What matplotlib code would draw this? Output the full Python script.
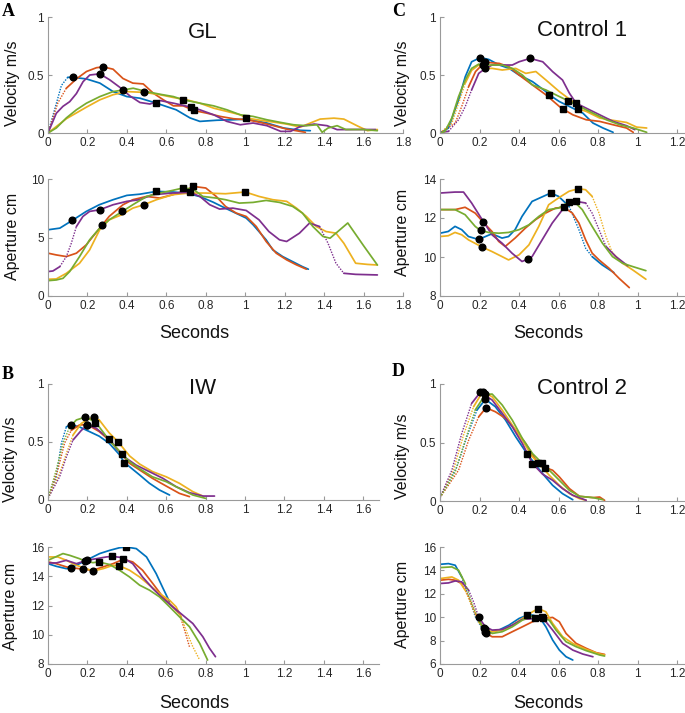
import numpy as np
import matplotlib.pyplot as plt
from matplotlib.ticker import FuncFormatter

plt.rcParams['font.family'] = ['Liberation Sans', 'DejaVu Sans']

W, H = 685, 713
colors = {'blue': '#0072BD', 'orange': '#D95319', 'yellow': '#EDB120',
          'purple': '#7E2F8E', 'green': '#77AC30'}

# ---------------- GL (panel A) ----------------
gl_vel = {
    'blue': ([0, 0.068, 0.10, 0.127, 0.195, 0.263, 0.33, 0.40, 0.466, 0.55, 0.65, 0.72, 0.77, 0.856, 0.94, 1.01, 1.11, 1.195, 1.28, 1.33],
             [0, 0.41, 0.48, 0.48, 0.466, 0.43, 0.357, 0.314, 0.30, 0.257, 0.2, 0.13, 0.10, 0.11, 0.114, 0.12, 0.086, 0.043, 0.023, 0.02]),
    'orange': ([0, 0.05, 0.093, 0.144, 0.195, 0.246, 0.28, 0.33, 0.38, 0.43, 0.483, 0.534, 0.585, 0.636, 0.686, 0.74, 0.805, 0.873, 0.94, 1.01, 1.076, 1.144, 1.21, 1.305],
               [0, 0.26, 0.386, 0.466, 0.53, 0.563, 0.57, 0.55, 0.47, 0.43, 0.423, 0.343, 0.286, 0.234, 0.234, 0.194, 0.171, 0.143, 0.123, 0.114, 0.091, 0.063, 0.034, 0.006]),
    'purple': ([0, 0.042, 0.076, 0.11, 0.144, 0.178, 0.212, 0.263, 0.314, 0.364, 0.415, 0.466, 0.517, 0.568, 0.636, 0.724, 0.77, 0.84, 0.907, 0.975, 1.04, 1.11, 1.18, 1.23, 1.28, 1.35, 1.415, 1.466, 1.55, 1.66],
               [0, 0.17, 0.23, 0.27, 0.34, 0.443, 0.5, 0.51, 0.457, 0.394, 0.32, 0.263, 0.25, 0.28, 0.257, 0.223, 0.2, 0.157, 0.1, 0.071, 0.086, 0.063, 0.014, 0.014, 0.057, 0.077, 0.063, 0.029, 0.03, 0.03]),
    'green': ([0, 0.042, 0.093, 0.144, 0.195, 0.263, 0.33, 0.378, 0.432, 0.5, 0.568, 0.636, 0.686, 0.77, 0.84, 0.907, 0.975, 1.04, 1.11, 1.18, 1.245, 1.31, 1.364, 1.39, 1.42, 1.466, 1.51, 1.6, 1.67],
              [0, 0.043, 0.13, 0.2, 0.257, 0.314, 0.357, 0.37, 0.386, 0.357, 0.334, 0.314, 0.286, 0.257, 0.234, 0.2, 0.157, 0.143, 0.114, 0.091, 0.071, 0.063, 0.071, 0.006, 0.043, 0.063, 0.03, 0.03, 0.02]),
    'yellow': ([0, 0.093, 0.195, 0.263, 0.33, 0.40, 0.488, 0.568, 0.636, 0.703, 0.77, 0.84, 0.907, 0.975, 1.005, 1.076, 1.144, 1.21, 1.28, 1.33, 1.38, 1.45, 1.5, 1.57, 1.62, 1.67],
               [0, 0.123, 0.223, 0.286, 0.33, 0.357, 0.35, 0.33, 0.306, 0.286, 0.257, 0.214, 0.186, 0.157, 0.13, 0.11, 0.094, 0.077, 0.051, 0.086, 0.12, 0.128, 0.12, 0.06, 0.02, 0.03]),
}
gl_vel_dots = {'blue': [(0, 0.10)], 'orange': [(0, 0.093)]}
gl_vel_circles = [(0.127, 0.48), (0.28, 0.57), (0.263, 0.51), (0.378, 0.37), (0.488, 0.35)]
gl_vel_squares = [(0.55, 0.257), (0.686, 0.286), (0.724, 0.223), (0.74, 0.194), (1.005, 0.13)]

gl_ap = {
    'blue': ([0, 0.06, 0.123, 0.194, 0.26, 0.33, 0.40, 0.465, 0.55, 0.633, 0.70, 0.77, 0.836, 0.90, 0.97, 1.005, 1.04, 1.106, 1.14, 1.19, 1.24, 1.29, 1.32],
             [5.66, 5.8, 6.46, 7.23, 7.8, 8.23, 8.6, 8.7, 8.94, 8.89, 8.8, 8.5, 8.03, 7.5, 6.94, 6.66, 6.09, 4.8, 3.94, 3.37, 2.94, 2.51, 2.29]),
    'orange': ([0, 0.042, 0.093, 0.144, 0.194, 0.228, 0.275, 0.31, 0.38, 0.43, 0.5, 0.566, 0.633, 0.70, 0.735, 0.80, 0.853, 0.90, 0.954, 1.005, 1.056, 1.106, 1.157, 1.21, 1.26, 1.31],
               [3.66, 3.51, 3.37, 3.66, 4.37, 5.09, 6.06, 6.8, 7.8, 8.23, 8.51, 8.37, 8.66, 9.03, 9.37, 9.23, 8.51, 7.66, 7.09, 6.8, 5.94, 4.66, 3.66, 3.09, 2.66, 2.29]),
    'purple': ([0, 0.025, 0.06, 0.093, 0.118, 0.144, 0.177, 0.211, 0.262, 0.33, 0.40, 0.465, 0.53, 0.633, 0.72, 0.77, 0.82, 0.87, 0.937, 1.005, 1.07, 1.12, 1.174, 1.21, 1.275, 1.326, 1.377, 1.42, 1.46, 1.5, 1.56, 1.67],
               [2.09, 2.14, 2.51, 3.37, 4.5, 5.94, 6.8, 7.23, 7.37, 7.8, 8.09, 8.23, 8.66, 8.8, 8.86, 8.51, 7.8, 7.43, 7.51, 7.31, 6.51, 5.51, 4.8, 4.66, 5.37, 6.23, 5.94, 4.5, 2.8, 1.94, 1.85, 1.8]),
    'green': ([0, 0.042, 0.076, 0.11, 0.16, 0.211, 0.262, 0.31, 0.377, 0.43, 0.5, 0.566, 0.633, 0.684, 0.735, 0.785, 0.853, 0.90, 0.97, 1.04, 1.106, 1.174, 1.24, 1.29, 1.343, 1.394, 1.43, 1.48, 1.52, 1.6, 1.67],
              [1.31, 1.37, 1.51, 2.09, 3.37, 4.8, 5.8, 6.51, 7.23, 7.8, 8.51, 8.8, 9.03, 9.23, 9.14, 8.51, 8.37, 8.23, 7.94, 8.0, 8.17, 8.0, 7.66, 7.09, 5.94, 5.09, 4.94, 5.66, 6.24, 4.3, 2.65]),
    'yellow': ([0, 0.042, 0.093, 0.16, 0.211, 0.262, 0.31, 0.373, 0.43, 0.486, 0.55, 0.633, 0.718, 0.80, 0.90, 1.0, 1.07, 1.14, 1.21, 1.26, 1.31, 1.36, 1.41, 1.46, 1.5, 1.56, 1.62, 1.67],
               [1.43, 1.46, 1.94, 2.8, 3.94, 5.66, 6.51, 6.94, 7.51, 7.8, 8.23, 8.66, 8.8, 8.8, 8.74, 8.89, 8.51, 8.23, 8.09, 7.51, 6.8, 5.94, 5.51, 5.37, 4.51, 2.8, 2.7, 2.65]),
}
gl_ap_dots = {'purple': [(0.06, 0.144), (1.377, 1.5)]}
gl_ap_circles = [(0.123, 6.46), (0.275, 6.06), (0.262, 7.37), (0.377, 7.23), (0.486, 7.8)]
gl_ap_squares = [(0.55, 8.94), (0.684, 9.23), (0.72, 8.86), (0.735, 9.37), (1.0, 8.89)]

# ---------------- Control 1 (panel C) ----------------
c1_vel = {
    'blue': ([0, 0.043, 0.094, 0.128, 0.16, 0.204, 0.247, 0.30, 0.35, 0.40, 0.468, 0.536, 0.553, 0.604, 0.672, 0.723, 0.774, 0.825, 0.876],
             [0, 0.043, 0.286, 0.486, 0.614, 0.65, 0.634, 0.586, 0.557, 0.5, 0.443, 0.357, 0.329, 0.271, 0.214, 0.171, 0.086, 0.043, 0.006]),
    'orange': ([0, 0.077, 0.11, 0.145, 0.18, 0.226, 0.30, 0.35, 0.40, 0.468, 0.536, 0.604, 0.62, 0.672, 0.74, 0.808, 0.876, 0.944, 0.978],
               [0, 0.086, 0.229, 0.4, 0.53, 0.61, 0.6, 0.57, 0.5, 0.414, 0.329, 0.229, 0.209, 0.157, 0.114, 0.1, 0.071, 0.043, 0.006]),
    'yellow': ([0, 0.06, 0.094, 0.128, 0.16, 0.196, 0.226, 0.264, 0.315, 0.383, 0.434, 0.485, 0.536, 0.604, 0.672, 0.70, 0.74, 0.808, 0.876, 0.944, 0.995, 1.046],
               [0, 0.086, 0.257, 0.43, 0.54, 0.586, 0.557, 0.557, 0.543, 0.557, 0.514, 0.53, 0.457, 0.357, 0.271, 0.209, 0.186, 0.129, 0.109, 0.091, 0.051, 0.043]),
    'green': ([0, 0.025, 0.06, 0.094, 0.128, 0.16, 0.196, 0.22, 0.264, 0.315, 0.366, 0.417, 0.468, 0.536, 0.604, 0.65, 0.706, 0.774, 0.842, 0.91, 0.978, 1.046],
              [0, 0.014, 0.129, 0.314, 0.457, 0.557, 0.594, 0.586, 0.586, 0.586, 0.557, 0.5, 0.414, 0.371, 0.314, 0.277, 0.229, 0.171, 0.114, 0.071, 0.043, 0.006]),
    'purple': ([0, 0.043, 0.094, 0.128, 0.16, 0.196, 0.23, 0.264, 0.315, 0.366, 0.40, 0.456, 0.52, 0.57, 0.62, 0.655, 0.689, 0.74, 0.808, 0.876, 0.944, 0.986],
               [0.006, 0.014, 0.114, 0.229, 0.371, 0.514, 0.557, 0.586, 0.586, 0.586, 0.614, 0.643, 0.614, 0.529, 0.457, 0.343, 0.257, 0.214, 0.157, 0.1, 0.063, 0.029]),
}
c1_vel_dots = {'orange': [(0, 0.145)], 'yellow': [(0, 0.128)], 'purple': [(0.043, 0.16)]}
c1_vel_circles = [(0.204, 0.65), (0.226, 0.61), (0.22, 0.586), (0.226, 0.557), (0.456, 0.643)]
c1_vel_squares = [(0.553, 0.329), (0.62, 0.209), (0.65, 0.277), (0.689, 0.257), (0.70, 0.209)]

c1_ap = {
    'blue': ([0, 0.042, 0.076, 0.11, 0.144, 0.195, 0.23, 0.263, 0.314, 0.347, 0.38, 0.415, 0.466, 0.56, 0.60, 0.653, 0.703, 0.737, 0.77, 0.82, 0.88],
             [11.22, 11.31, 11.57, 11.4, 11.05, 10.9, 11.05, 11.19, 10.97, 11.05, 11.4, 12.08, 12.85, 13.28, 13.11, 12.6, 11.4, 10.45, 10.02, 9.6, 9.2]),
    'orange': ([0, 0.076, 0.127, 0.178, 0.22, 0.263, 0.297, 0.33, 0.38, 0.432, 0.483, 0.534, 0.585, 0.627, 0.67, 0.703, 0.737, 0.77, 0.805, 0.856, 0.907, 0.958],
               [12.43, 12.43, 12.55, 12.25, 11.77, 11.31, 10.8, 10.54, 10.97, 11.48, 11.91, 12.25, 12.51, 12.55, 12.25, 11.74, 10.88, 10.2, 9.85, 9.42, 8.9, 8.43]),
    'yellow': ([0, 0.042, 0.076, 0.11, 0.144, 0.215, 0.263, 0.314, 0.347, 0.40, 0.45, 0.50, 0.55, 0.60, 0.653, 0.70, 0.737, 0.77, 0.805, 0.84, 0.873, 0.924, 0.975, 1.042],
               [11.05, 11.09, 11.26, 11.14, 10.88, 10.5, 10.28, 10.02, 9.85, 10.11, 10.62, 11.57, 12.68, 13.03, 13.37, 13.5, 13.45, 13.11, 12.25, 11.05, 10.2, 9.68, 9.34, 8.86]),
    'purple': ([0, 0.076, 0.119, 0.16, 0.203, 0.263, 0.314, 0.364, 0.415, 0.446, 0.466, 0.517, 0.568, 0.62, 0.653, 0.69, 0.737, 0.77, 0.805, 0.84, 0.89, 0.95],
               [13.28, 13.33, 13.33, 12.77, 12.08, 11.14, 10.71, 10.2, 9.77, 9.9, 10.02, 10.88, 11.74, 12.43, 12.77, 12.85, 12.77, 12.25, 11.4, 10.54, 10.02, 9.55]),
    'green': ([0, 0.076, 0.127, 0.178, 0.205, 0.246, 0.297, 0.347, 0.40, 0.45, 0.50, 0.55, 0.60, 0.653, 0.686, 0.72, 0.77, 0.822, 0.873, 0.924, 0.975, 1.042],
              [12.43, 12.43, 12.17, 11.57, 11.36, 11.26, 11.22, 11.26, 11.4, 11.65, 12.08, 12.43, 12.51, 12.82, 12.77, 12.43, 11.57, 10.71, 10.02, 9.68, 9.51, 9.3]),
}
c1_ap_dots = {'blue': [(0.653, 0.77)], 'yellow': [(0.77, 0.873)], 'purple': [(0.737, 0.84)]}
c1_ap_circles = [(0.195, 10.9), (0.22, 11.77), (0.215, 10.5), (0.446, 9.9), (0.205, 11.36)]
c1_ap_squares = [(0.56, 13.28), (0.627, 12.55), (0.70, 13.5), (0.69, 12.85), (0.653, 12.82)]

# ---------------- IW (panel B) ----------------
iw_vel = {
    'blue': ([0, 0.042, 0.068, 0.093, 0.115, 0.16, 0.21, 0.26, 0.31, 0.363, 0.387, 0.414, 0.465, 0.515, 0.566, 0.617],
             [0.014, 0.2, 0.49, 0.63, 0.65, 0.63, 0.59, 0.55, 0.49, 0.39, 0.322, 0.287, 0.216, 0.144, 0.086, 0.043]),
    'orange': ([0, 0.05, 0.084, 0.118, 0.16, 0.2, 0.26, 0.31, 0.363, 0.375, 0.414, 0.465, 0.53, 0.6, 0.667, 0.718],
               [0.014, 0.26, 0.49, 0.6, 0.647, 0.65, 0.59, 0.517, 0.42, 0.394, 0.316, 0.259, 0.187, 0.12, 0.057, 0.029]),
    'yellow': ([0, 0.059, 0.093, 0.127, 0.169, 0.21, 0.233, 0.26, 0.31, 0.355, 0.414, 0.465, 0.53, 0.6, 0.667, 0.735, 0.786],
               [0.014, 0.23, 0.4, 0.56, 0.66, 0.70, 0.713, 0.69, 0.58, 0.503, 0.38, 0.31, 0.245, 0.2, 0.144, 0.072, 0.034]),
    'green': ([0, 0.042, 0.076, 0.11, 0.144, 0.186, 0.22, 0.24, 0.26, 0.31, 0.363, 0.414, 0.465, 0.53, 0.6, 0.667, 0.735, 0.8],
              [0.014, 0.26, 0.49, 0.63, 0.69, 0.713, 0.69, 0.667, 0.63, 0.517, 0.42, 0.33, 0.27, 0.2, 0.158, 0.1, 0.043, 0.014]),
    'purple': ([0, 0.059, 0.093, 0.127, 0.169, 0.2, 0.245, 0.296, 0.312, 0.346, 0.397, 0.448, 0.515, 0.583, 0.65, 0.718, 0.786, 0.845],
               [0.014, 0.2, 0.37, 0.517, 0.6, 0.647, 0.618, 0.546, 0.53, 0.445, 0.36, 0.3, 0.244, 0.187, 0.115, 0.063, 0.034, 0.034]),
}
iw_vel_dots = {'blue': [(0, 0.093)], 'orange': [(0, 0.118)], 'yellow': [(0, 0.127)],
               'green': [(0, 0.11)], 'purple': [(0, 0.127)]}
iw_vel_circles = [(0.115, 0.65), (0.2, 0.65), (0.233, 0.713), (0.186, 0.713), (0.2, 0.647)]
iw_vel_squares = [(0.387, 0.322), (0.375, 0.394), (0.355, 0.503), (0.24, 0.667), (0.312, 0.53)]

iw_ap = {
    'blue': ([0, 0.042, 0.093, 0.115, 0.16, 0.21, 0.262, 0.313, 0.363, 0.397, 0.448, 0.5, 0.549, 0.583, 0.617],
             [14.86, 14.68, 14.52, 14.57, 14.86, 15.2, 15.55, 15.77, 15.95, 16.0, 15.89, 15.32, 14.18, 13.2, 12.25]),
    'orange': ([0, 0.042, 0.093, 0.177, 0.228, 0.28, 0.33, 0.382, 0.43, 0.48, 0.532, 0.583, 0.633, 0.667, 0.693, 0.718],
               [14.98, 14.86, 14.64, 14.48, 14.41, 14.64, 14.86, 15.16, 14.98, 14.41, 13.5, 12.59, 11.91, 11.45, 10.32, 9.18]),
    'yellow': ([0, 0.05, 0.093, 0.144, 0.228, 0.28, 0.33, 0.36, 0.414, 0.465, 0.515, 0.566, 0.617, 0.65, 0.676, 0.7, 0.735, 0.77],
               [15.32, 15.32, 15.09, 14.75, 14.36, 14.52, 14.75, 14.73, 14.41, 13.95, 13.39, 12.82, 12.36, 11.91, 11.23, 10.32, 9.18, 8.27]),
    'green': ([0, 0.076, 0.11, 0.16, 0.186, 0.228, 0.257, 0.313, 0.363, 0.414, 0.465, 0.515, 0.566, 0.617, 0.667, 0.718, 0.77, 0.81],
              [15.09, 15.55, 15.43, 15.2, 15.05, 14.93, 14.98, 14.8, 14.41, 13.95, 13.39, 13.05, 12.59, 11.91, 11.23, 10.55, 9.41, 8.27]),
    'purple': ([0, 0.042, 0.093, 0.144, 0.198, 0.245, 0.296, 0.325, 0.38, 0.43, 0.48, 0.532, 0.583, 0.633, 0.684, 0.735, 0.786, 0.82, 0.85],
               [14.91, 14.91, 15.09, 14.86, 15.09, 15.2, 15.32, 15.36, 15.27, 14.86, 13.95, 13.16, 12.48, 11.91, 11.34, 10.77, 9.86, 9.07, 8.5]),
}
iw_ap_dots = {'orange': [(0.667, 0.718)], 'yellow': [(0.676, 0.77)]}
iw_ap_circles = [(0.115, 14.57), (0.177, 14.48), (0.228, 14.36), (0.186, 15.05), (0.198, 15.09)]
iw_ap_squares = [(0.397, 16.0), (0.382, 15.16), (0.36, 14.73), (0.257, 14.98), (0.325, 15.36)]

# ---------------- Control 2 (panel D) ----------------
c2_vel = {
    'blue': ([0, 0.085, 0.136, 0.187, 0.23, 0.28, 0.332, 0.383, 0.442, 0.519, 0.57, 0.62, 0.672],
             [0.029, 0.291, 0.549, 0.777, 0.869, 0.806, 0.691, 0.549, 0.4, 0.234, 0.134, 0.063, 0.011]),
    'orange': ([0, 0.094, 0.145, 0.196, 0.233, 0.28, 0.332, 0.383, 0.434, 0.485, 0.532, 0.57, 0.604, 0.655, 0.706, 0.774, 0.808, 0.833],
               [0.029, 0.263, 0.52, 0.72, 0.797, 0.763, 0.706, 0.606, 0.491, 0.349, 0.286, 0.263, 0.206, 0.106, 0.04, 0.029, 0.034, 0.006]),
    'yellow': ([0, 0.068, 0.119, 0.17, 0.216, 0.264, 0.315, 0.366, 0.417, 0.468, 0.498, 0.553, 0.604, 0.655, 0.706, 0.74],
               [0.029, 0.263, 0.563, 0.806, 0.934, 0.891, 0.777, 0.649, 0.52, 0.377, 0.326, 0.22, 0.134, 0.063, 0.02, 0.006]),
    'green': ([0, 0.077, 0.128, 0.178, 0.23, 0.264, 0.315, 0.366, 0.417, 0.468, 0.515, 0.553, 0.604, 0.655, 0.706, 0.774, 0.825],
              [0.029, 0.249, 0.52, 0.777, 0.911, 0.914, 0.82, 0.691, 0.534, 0.406, 0.326, 0.263, 0.177, 0.091, 0.04, 0.029, 0.011]),
    'purple': ([0, 0.06, 0.11, 0.16, 0.204, 0.264, 0.315, 0.366, 0.417, 0.468, 0.519, 0.57, 0.62, 0.672, 0.74],
               [0.029, 0.263, 0.577, 0.834, 0.929, 0.863, 0.749, 0.634, 0.491, 0.32, 0.23, 0.177, 0.106, 0.049, 0.006]),
}
c2_vel_dots = {'blue': [(0, 0.187)], 'orange': [(0, 0.196)], 'yellow': [(0, 0.17)],
               'green': [(0, 0.178)], 'purple': [(0, 0.16)]}
c2_vel_circles = [(0.23, 0.869), (0.233, 0.797), (0.216, 0.934), (0.23, 0.911), (0.204, 0.929)]
c2_vel_squares = [(0.442, 0.4), (0.532, 0.286), (0.498, 0.326), (0.515, 0.326), (0.468, 0.32)]

c2_ap = {
    'blue': ([0, 0.043, 0.077, 0.11, 0.145, 0.179, 0.213, 0.23, 0.247, 0.298, 0.349, 0.4, 0.442, 0.468, 0.502, 0.536, 0.57, 0.604, 0.638, 0.672],
             [14.52, 14.58, 14.44, 13.44, 11.74, 10.03, 9.04, 8.76, 8.7, 8.9, 9.32, 9.89, 10.18, 10.18, 10.03, 9.18, 8.05, 7.19, 6.62, 6.34]),
    'orange': ([0, 0.043, 0.077, 0.11, 0.145, 0.179, 0.233, 0.264, 0.315, 0.366, 0.417, 0.468, 0.52, 0.57, 0.604, 0.638, 0.689, 0.74, 0.79, 0.833],
               [13.16, 13.24, 13.16, 12.88, 11.74, 10.32, 8.61, 8.33, 8.33, 8.76, 9.18, 9.61, 9.89, 9.98, 9.61, 8.61, 7.76, 7.34, 6.97, 6.82]),
    'yellow': ([0, 0.06, 0.094, 0.128, 0.162, 0.196, 0.226, 0.264, 0.315, 0.366, 0.417, 0.468, 0.498, 0.536, 0.57, 0.621, 0.672, 0.74, 0.808, 0.833],
               [13.3, 13.44, 13.16, 12.3, 10.89, 9.61, 8.95, 8.76, 8.9, 9.32, 9.89, 10.46, 10.74, 10.46, 9.47, 8.33, 7.76, 7.25, 6.85, 6.77]),
    'green': ([0, 0.06, 0.094, 0.128, 0.162, 0.196, 0.221, 0.264, 0.315, 0.366, 0.417, 0.468, 0.515, 0.553, 0.587, 0.638, 0.689, 0.74, 0.808, 0.833],
              [14.24, 14.3, 14.01, 12.88, 11.17, 9.75, 9.04, 8.61, 8.76, 9.18, 9.75, 10.09, 9.98, 9.75, 8.9, 7.9, 7.48, 7.14, 6.77, 6.68]),
    'purple': ([0, 0.043, 0.077, 0.11, 0.145, 0.17, 0.196, 0.23, 0.264, 0.315, 0.366, 0.417, 0.48, 0.536, 0.57, 0.621, 0.672, 0.723, 0.774],
               [12.88, 12.93, 13.1, 13.02, 12.3, 11.31, 9.98, 9.18, 8.9, 8.95, 9.32, 9.81, 9.89, 9.61, 8.9, 7.76, 7.19, 6.85, 6.62]),
}
c2_ap_dots = {'blue': [(0.11, 0.213)], 'orange': [(0.11, 0.179)], 'yellow': [(0.128, 0.196)],
              'green': [(0.128, 0.196)], 'purple': [(0.145, 0.196)]}
c2_ap_circles = [(0.23, 8.76), (0.233, 8.61), (0.226, 8.95), (0.221, 9.04), (0.196, 9.98)]
c2_ap_squares = [(0.442, 10.18), (0.52, 9.89), (0.498, 10.74), (0.515, 9.98), (0.48, 9.89)]


def rect(left, top, right, bottom):
    # pixel box -> figure fraction
    return [left / W, 1 - bottom / H, (right - left) / W, (bottom - top) / H]


def px(x, y):
    return x / W, 1 - y / H


def draw(ax, curves, dots, circles, squares, xlim, ylim, xticks, yticks):
    for name in ['blue', 'orange', 'yellow', 'purple', 'green']:
        t, y = curves[name]
        t = np.array(t, float)
        y = np.array(y, float)
        solid = np.ones(len(t), bool)
        dotted = np.zeros(len(t), bool)
        for d0, d1 in dots.get(name, []):
            solid &= ~((t > d0) & (t < d1))
            dotted |= (t >= d0) & (t <= d1)
        ax.plot(t, np.where(solid, y, np.nan), color=colors[name], lw=1.25,
                solid_joinstyle='round', solid_capstyle='round')
        if dotted.any():
            ax.plot(t, np.where(dotted, y, np.nan), color=colors[name], lw=1.0, ls=(0, (1, 1)))
    cx, cy = zip(*circles)
    sx, sy = zip(*squares)
    ax.plot(cx, cy, 'o', color='k', ms=4.8, zorder=5)
    ax.plot(sx, sy, 's', color='k', ms=4.8, zorder=5)
    ax.set_xlim(*xlim)
    ax.set_ylim(*ylim)
    ax.set_xticks(xticks)
    ax.set_yticks(yticks)
    fmt = FuncFormatter(lambda v, p: '%g' % round(v, 2))
    ax.xaxis.set_major_formatter(fmt)
    ax.yaxis.set_major_formatter(fmt)
    for s in ['top', 'right']:
        ax.spines[s].set_visible(False)
    for s in ['left', 'bottom']:
        ax.spines[s].set_color('#9a9a9a')
        ax.spines[s].set_linewidth(0.8)
    ax.tick_params(direction='in', length=3, width=0.8, color='#9a9a9a',
                   labelsize=8.5, labelcolor='#262626', pad=3)
    ax.patch.set_alpha(0)


fig = plt.figure(figsize=(W / 100, H / 100), dpi=100)

ticks_a = [0, 0.2, 0.4, 0.6, 0.8, 1, 1.2, 1.4, 1.6, 1.8]
ticks_b = [0, 0.2, 0.4, 0.6, 0.8, 1, 1.2, 1.4, 1.6]
ticks_c = [0, 0.2, 0.4, 0.6, 0.8, 1, 1.2]

ax = fig.add_axes(rect(48, 17, 403, 133))
draw(ax, gl_vel, gl_vel_dots, gl_vel_circles, gl_vel_squares, (0, 1.8), (0, 1), ticks_a, [0, 0.5, 1])
ax = fig.add_axes(rect(48, 179, 403, 296))
draw(ax, gl_ap, gl_ap_dots, gl_ap_circles, gl_ap_squares, (0, 1.8), (0, 10), ticks_a, [0, 5, 10])

ax = fig.add_axes(rect(440, 17, 685, 133))
draw(ax, c1_vel, c1_vel_dots, c1_vel_circles, c1_vel_squares, (0, 1.24), (0, 1), ticks_c, [0, 0.5, 1])
ax = fig.add_axes(rect(440, 179, 685, 296))
draw(ax, c1_ap, c1_ap_dots, c1_ap_circles, c1_ap_squares, (0, 1.24), (8, 14), ticks_c, [8, 10, 12, 14])

ax = fig.add_axes(rect(48, 384, 379, 500))
draw(ax, iw_vel, iw_vel_dots, iw_vel_circles, iw_vel_squares, (0, 1.68), (0, 1), ticks_b, [0, 0.5, 1])
ax = fig.add_axes(rect(48, 547, 379, 664))
draw(ax, iw_ap, iw_ap_dots, iw_ap_circles, iw_ap_squares, (0, 1.68), (8, 16), ticks_b, [8, 10, 12, 14, 16])

ax = fig.add_axes(rect(440, 384, 685, 501))
draw(ax, c2_vel, c2_vel_dots, c2_vel_circles, c2_vel_squares, (0, 1.24), (0, 1), ticks_c, [0, 0.5, 1])
ax = fig.add_axes(rect(440, 547, 685, 664))
draw(ax, c2_ap, c2_ap_dots, c2_ap_circles, c2_ap_squares, (0, 1.24), (6, 16), ticks_c, [6, 8, 10, 12, 14, 16])

# titles
for label, x, y in [('GL', 203, 32), ('Control 1', 582, 31), ('IW', 203, 388), ('Control 2', 582, 388)]:
    fig.text(*px(x, y), label, fontsize=16, ha='center', va='center', color='#111111')

# axis labels
for label, x, y in [('Velocity m/s', 12, 83), ('Aperture cm', 12, 236),
                    ('Velocity m/s', 402, 83), ('Aperture cm', 402, 232),
                    ('Velocity m/s', 11, 459), ('Aperture cm', 11, 606),
                    ('Velocity m/s', 402, 456), ('Aperture cm', 402, 604)]:
    fig.text(*px(x, y), label, fontsize=11.5, rotation=90, ha='center', va='center', color='#111111')

for x, y in [(194, 333), (548, 333), (194, 703), (548, 703)]:
    fig.text(*px(x, y), 'Seconds', fontsize=13, ha='center', va='center', color='#111111')

# panel letters
for label, x, y in [('A', 2, 11), ('B', 2, 374), ('C', 392, 11), ('D', 392, 372)]:
    fig.text(*px(x, y), label, fontsize=13, fontweight='bold', family='Liberation Serif',
             ha='left', va='center')

fig.savefig('out.png', dpi=100)
